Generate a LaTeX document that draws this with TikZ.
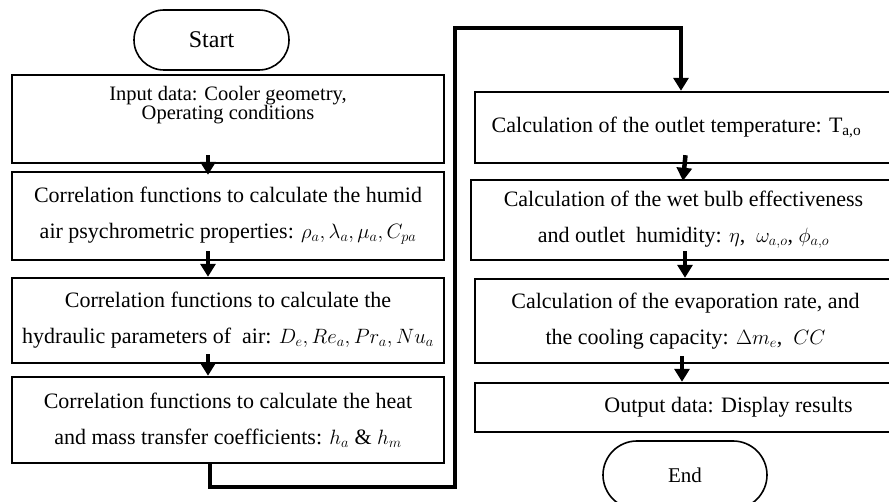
\documentclass[tikz,border=0pt]{standalone}
\usepackage{fontspec}
\setmainfont{Liberation Serif}
\usetikzlibrary{arrows.meta}

\tikzset{
  stepbox/.style={draw, line width=2.4pt, rectangle, align=center, inner sep=0pt,
    font=\fontsize{22}{36}\selectfont},
  term/.style={draw, line width=1.6pt, rectangle, inner sep=0pt},
  flow/.style={line width=4.5pt, -{Triangle[length=13pt,width=15pt]}},
  loopline/.style={line width=4pt, line join=miter, -{Triangle[length=13pt,width=15pt]}}
}

\begin{document}
\begin{tikzpicture}[x=1pt,y=1pt]
\useasboundingbox (0,0) rectangle (889,502);
\clip (0,0) rectangle (889,502);

% left column
\node[term, rounded corners=30pt, minimum width=155pt, minimum height=60pt,
  font=\fontsize{24}{24}\selectfont] (start) at (211.5,462) {Start};
\node[stepbox, minimum width=432pt, minimum height=88pt] (input) at (228,383)
  {\raisebox{9pt}[0pt][0pt]{\fontsize{20.5}{15}\selectfont
   \begin{tabular}{@{}c@{}}Input data: Cooler geometry,\\Operating conditions\end{tabular}}};
\node[stepbox, minimum width=432pt, minimum height=88pt] (props) at (228,286)
  {Correlation functions to calculate the humid\\
   air psychrometric properties: $\rho_a,\lambda_a,\mu_a,C_{pa}$};
\node[stepbox, minimum width=432pt, minimum height=85pt] (hydr) at (228,181.5)
  {Correlation functions to calculate the\\
   hydraulic parameters of \ air: $D_e,Re_a,Pr_a,Nu_a$};
\node[stepbox, minimum width=432pt, minimum height=86pt] (coeff) at (228,82)
  {Correlation functions to calculate the heat\\
   and mass transfer coefficients: $h_a$ \& $h_m$};

% right column
\node[stepbox, minimum width=421pt, minimum height=71pt] (tout) at (685.5,374.5)
  {Calculation of the outlet temperature: T\textsubscript{a,o}\hspace*{18pt}};
\node[stepbox, minimum width=425pt, minimum height=80pt] (wetbulb) at (683.5,282)
  {Calculation of the wet bulb effectiveness\\
   and outlet \ humidity: $\eta$, \ $\omega_{a,o}$, $\phi_{a,o}$};
\node[stepbox, minimum width=421pt, minimum height=84pt] (evap) at (685.5,181)
  {Calculation of the evaporation rate, and\\
   the cooling capacity: $\Delta m_e$, \ $CC$};
\node[stepbox, minimum width=421pt, minimum height=49pt] (output) at (685.5,94.5)
  {\hspace*{86pt}Output data: Display results};
\node[term, rounded corners=34pt, minimum width=164pt, minimum height=68pt,
  font=\fontsize{21}{21}\selectfont] (stop) at (685,27) {End};

% arrows
\draw[flow] ([xshift=-20pt,yshift=9pt]input.south) -- ([xshift=-20pt,yshift=-4pt]props.north);
\draw[flow] ([xshift=-20pt,yshift=10pt]props.south) -- ([xshift=-20pt]hydr.north);
\draw[flow] ([xshift=-20pt,yshift=10pt]hydr.south) -- ([xshift=-20pt]coeff.north);

\coordinate (lowturn) at (455,15);
\coordinate (highturn) at (455,474);
\draw[loopline] ([xshift=-18pt]coeff.south) |- (lowturn) -- (highturn)
  -| ([xshift=-4.5pt]tout.north);

\draw[flow] ([yshift=9pt]tout.south) -- ([xshift=-0.5pt,yshift=-2pt]wetbulb.north);
\draw[flow] ([xshift=1.5pt,yshift=10pt]wetbulb.south) -- ([xshift=-0.5pt]evap.north);
\draw[flow] ([xshift=-3.5pt,yshift=8pt]evap.south) -- ([xshift=-3.5pt]output.north);

\end{tikzpicture}
\end{document}
